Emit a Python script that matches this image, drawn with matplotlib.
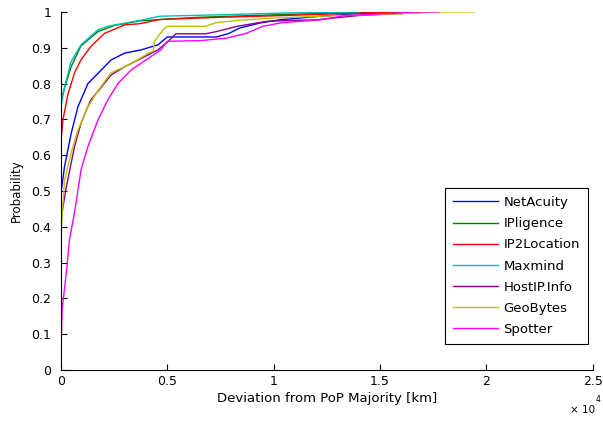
import numpy as np
import matplotlib
matplotlib.use('Agg')
import matplotlib.pyplot as plt
from matplotlib.ticker import FuncFormatter

plt.rcParams['font.family'] = ['DejaVu Sans']

names = ['NetAcuity', 'IPligence', 'IP2Location', 'Maxmind', 'HostIP.Info', 'GeoBytes', 'Spotter']
colors = ['#0000ff', '#008000', '#ff0000', '#00bfbf', '#8b008b', '#bfbf00', '#ff00ff']

# deviation [km] and cumulative probability
netacuity_x = [0, 0, 170, 480, 800, 1270, 1900, 2360, 3000, 3770, 4560, 5000, 7300, 7900, 8400, 9350, 10300, 12200, 14000, 17000]
netacuity_y = [0.45, 0.494, 0.568, 0.66, 0.735, 0.80, 0.838, 0.866, 0.885, 0.894, 0.908, 0.93, 0.93, 0.94, 0.955, 0.969, 0.978, 0.988, 0.995, 1.0]

ipligence_x = [0, 0, 480, 940, 1740, 2500, 3700, 5000, 6500, 10000, 13000, 16000]
ipligence_y = [0.72, 0.754, 0.847, 0.905, 0.945, 0.962, 0.975, 0.98, 0.985, 0.992, 0.997, 1.0]

ip2loc_x = [0, 0, 100, 330, 640, 940, 1400, 2050, 3000, 3700, 4650, 7500, 10500, 13000, 16000]
ip2loc_y = [0.62, 0.64, 0.70, 0.77, 0.83, 0.866, 0.903, 0.94, 0.964, 0.967, 0.979, 0.985, 0.99, 0.995, 1.0]

maxmind_x = [0, 0, 170, 470, 940, 1740, 2200, 3760, 4650, 7500, 10500, 14000]
maxmind_y = [0.39, 0.735, 0.79, 0.86, 0.908, 0.95, 0.96, 0.977, 0.988, 0.992, 0.997, 1.0]

hostip_x = [0, 0, 250, 640, 950, 1400, 1900, 2360, 3000, 3770, 4560, 5030, 5400, 6800, 7300, 8300, 9700, 12000, 14000, 17500]
hostip_y = [0.35, 0.42, 0.51, 0.624, 0.69, 0.754, 0.79, 0.824, 0.847, 0.87, 0.894, 0.917, 0.939, 0.939, 0.945, 0.96, 0.974, 0.978, 0.99, 1.0]

geobytes_x = [0, 0, 170, 480, 800, 1270, 1740, 2360, 3000, 3600, 4100, 4340, 4400, 4800, 5000, 6800, 7300, 8400, 10000, 12200, 16000, 17600, 19450]
geobytes_y = [0.18, 0.38, 0.53, 0.606, 0.67, 0.735, 0.78, 0.83, 0.847, 0.866, 0.885, 0.89, 0.918, 0.95, 0.96, 0.96, 0.97, 0.977, 0.983, 0.988, 0.995, 1.0, 1.0]

spotter_x = [0, 0, 60, 270, 400, 640, 950, 1270, 1740, 2200, 2680, 3300, 4100, 4700, 5000, 6600, 7800, 8700, 9500, 10400, 12200, 13400, 16000, 16200, 17800]
spotter_y = [0.0, 0.05, 0.17, 0.28, 0.363, 0.44, 0.56, 0.624, 0.698, 0.754, 0.80, 0.838, 0.87, 0.894, 0.918, 0.92, 0.927, 0.94, 0.96, 0.97, 0.978, 0.99, 0.997, 1.0, 1.0]

xs = [netacuity_x, ipligence_x, ip2loc_x, maxmind_x, hostip_x, geobytes_x, spotter_x]
ys = [netacuity_y, ipligence_y, ip2loc_y, maxmind_y, hostip_y, geobytes_y, spotter_y]

fig = plt.figure(figsize=(6.03, 4.26), dpi=100)
ax = fig.add_axes([0.101, 0.1315, 0.882, 0.8405])

for x, y, c, n in zip(xs, ys, colors, names):
    ax.plot(x, y, color=c, lw=1.0, label=n)

ax.set_xlim(0, 25000)
ax.set_ylim(0, 1)
ax.set_xticks(np.arange(0, 25001, 5000))
ax.set_yticks(np.arange(0, 1.01, 0.1))
ax.xaxis.set_major_formatter(FuncFormatter(lambda v, p: '%g' % (v / 1e4)))
ax.yaxis.set_major_formatter(FuncFormatter(lambda v, p: '%g' % round(v, 1)))
ax.tick_params(direction='in', length=4, labelsize=9, width=0.8)
ax.tick_params(axis='y', pad=7)
ax.spines['top'].set_visible(False)
ax.spines['right'].set_visible(False)
ax.set_xlabel('Deviation from PoP Majority [km]', fontsize=9.5, labelpad=3)
ax.set_ylabel('Probability', fontsize=8.5, labelpad=6)

# exponent label below the right end of the x axis
fig.text(570 / 603, 1 - 410 / 426, '\u00d7 10', fontsize=7.5, ha='left', va='center')
fig.text(596 / 603, 1 - 400 / 426, '4', fontsize=5.5, ha='left', va='center')

leg = ax.legend(loc='lower right', bbox_to_anchor=(0.9906, 0.0726), fontsize=9.5,
                fancybox=False, framealpha=1, edgecolor='black', borderaxespad=0,
                handlelength=3.4, handletextpad=0.4, labelspacing=0.62, borderpad=0.6)
leg.get_frame().set_linewidth(0.8)

fig.savefig('out.png', dpi=100)
